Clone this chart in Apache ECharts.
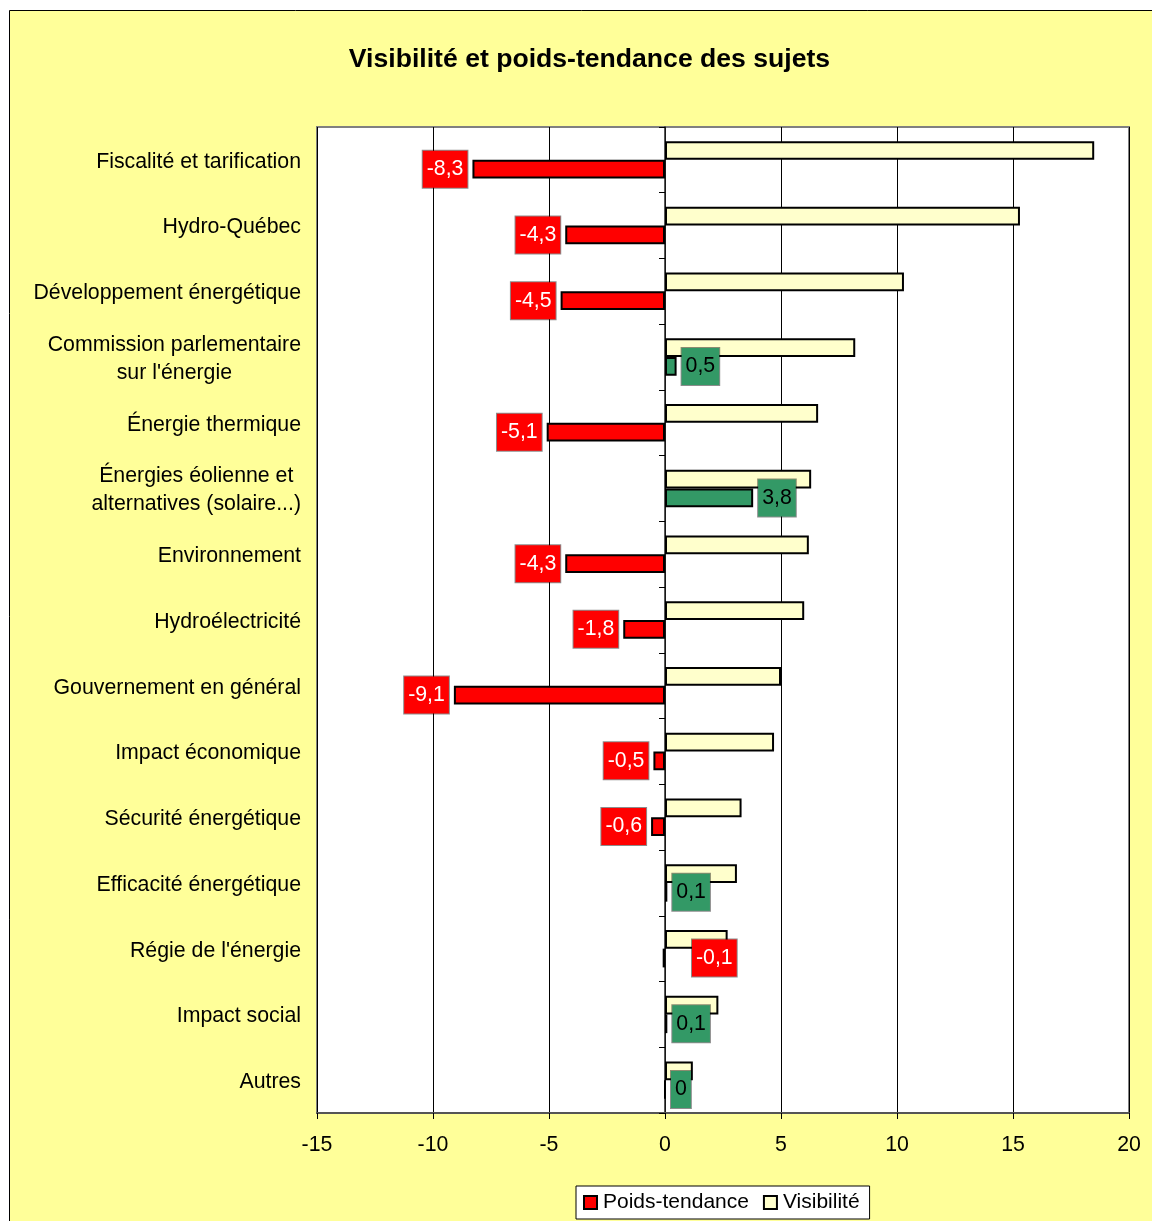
<!DOCTYPE html>
<html><head><meta charset="utf-8">
<script src="https://cdn.jsdelivr.net/npm/echarts@6/dist/echarts.min.js"></script>
<style>html,body{margin:0;padding:0;background:#fff}#c{width:1152px;height:1221px}</style>
</head><body><div id="c"></div>
<script>
const categories = ["Fiscalité et tarification","Hydro-Québec","Développement énergétique","Commission parlementaire\nsur l'énergie","Énergie thermique","Énergies éolienne et\nalternatives (solaire...)","Environnement","Hydroélectricité","Gouvernement en général","Impact économique","Sécurité énergétique","Efficacité énergétique","Régie de l'énergie","Impact social","Autres"];
const visibilite = [18.5,15.3,10.3,8.2,6.6,6.3,6.2,6.0,5.0,4.7,3.3,3.1,2.7,2.3,1.2];
const poidsTendance = [-8.3,-4.3,-4.5,0.5,-5.1,3.8,-4.3,-1.8,-9.1,-0.5,-0.6,0.1,-0.1,0.1,0];
const xMin = -15, xMax = 20, xStep = 5;
const seriesNames = ["Poids-tendance","Visibilité"];

const FONT = "'Liberation Sans', Arial, sans-serif";
const FS = 21.3;
const RED = '#FF0000', GREEN = '#339966', PALE = '#FFFFCC';

const poidsData = poidsTendance.map(v => {
  const tinyNeg = v < 0 && Math.abs(v) < 0.15;
  const fill = v >= 0 ? GREEN : RED;
  return {
    value: v,
    itemStyle: { color: fill },
    label: {
      position: (v >= 0 || tinyNeg) ? 'right' : 'left',
      distance: tinyNeg ? 27 : 5,
      color: v >= 0 ? '#000' : '#fff',
      backgroundColor: fill
    }
  };
});

const chart = echarts.init(document.getElementById('c'), null, {renderer:'canvas'});
chart.setOption({
  backgroundColor: '#fff',
  animation: false,
  textStyle: { fontFamily: FONT },
  graphic: { elements: [{
    type: 'rect', z: -100, silent: true,
    shape: { x: 9.5, y: 10.5, width: 1200, height: 1300 },
    style: { fill: '#FFFF99', stroke: '#000', lineWidth: 1 }
  }]},
  title: {
    text: 'Visibilité et poids-tendance des sujets',
    left: 589.5, top: 46, textAlign: 'center', padding: 0,
    textStyle: { fontFamily: FONT, fontSize: 26.6, fontWeight: 'bold', color: '#000' }
  },
  legend: {
    data: [
      { name: seriesNames[0], itemStyle: { color: RED, borderColor: '#000', borderWidth: 2 } },
      { name: seriesNames[1], itemStyle: { color: PALE, borderColor: '#000', borderWidth: 2 } }
    ],
    left: 576, top: 1186,
    padding: [6, 10, 6, 7],
    itemWidth: 13, itemHeight: 13, itemGap: 14,
    icon: 'rect',
    backgroundColor: '#fff', borderColor: '#000', borderWidth: 1,
    textStyle: { fontFamily: FONT, fontSize: 21, color: '#000', padding: [0,0,0,1] }
  },
  grid: {
    left: 317, top: 127, width: 812, height: 986,
    show: true, backgroundColor: '#fff', borderColor: '#808080', borderWidth: 2,
    containLabel: false
  },
  xAxis: {
    type: 'value', min: xMin, max: xMax, interval: xStep,
    axisLine: { show: true, onZero: false, lineStyle: { color: '#555', width: 2 } },
    axisTick: { show: true, length: 6, lineStyle: { color: '#000' } },
    axisLabel: { fontFamily: FONT, fontSize: FS, color: '#000', margin: 22 },
    splitLine: { show: true, lineStyle: { color: '#000', width: 1 } }
  },
  yAxis: [{
    type: 'category', data: categories, inverse: true,
    axisLine: { show: false, onZero: false },
    axisTick: { show: false },
    axisLabel: {
      margin: 16, fontFamily: FONT, fontSize: FS, color: '#000',
      padding: [4, 0, 0, 0],
      formatter: s => s.split('\n').map(l => '{c|' + l + '}').join('\n'),
      rich: { c: { align: 'center', fontFamily: FONT, fontSize: FS, color: '#000', lineHeight: 28 } }
    },
    splitLine: { show: false }
  }, {
    type: 'category', data: categories, inverse: true, position: 'left',
    axisLine: { show: true, onZero: true, lineStyle: { color: '#222', width: 1.5 } },
    axisTick: { show: true, length: 6, lineStyle: { color: '#000' } },
    axisLabel: { show: false },
    splitLine: { show: false }
  }],
  series: [{
    name: seriesNames[1], type: 'bar', yAxisIndex: 0,
    data: visibilite,
    barCategoryGap: '43%', barGap: '0%',
    itemStyle: { color: PALE, borderColor: '#000', borderWidth: 2 }
  }, {
    name: seriesNames[0], type: 'bar', yAxisIndex: 0,
    data: poidsData,
    barCategoryGap: '43%', barGap: '0%',
    itemStyle: { color: RED, borderColor: '#000', borderWidth: 2 },
    label: {
      show: true,
      fontFamily: FONT, fontSize: FS,
      padding: [8, 4, 8, 4],
      borderColor: 'rgba(0,0,0,0.45)', borderWidth: 1,
      formatter: p => String(p.value).replace('.', ',')
    }
  }]
});
</script></body></html>
